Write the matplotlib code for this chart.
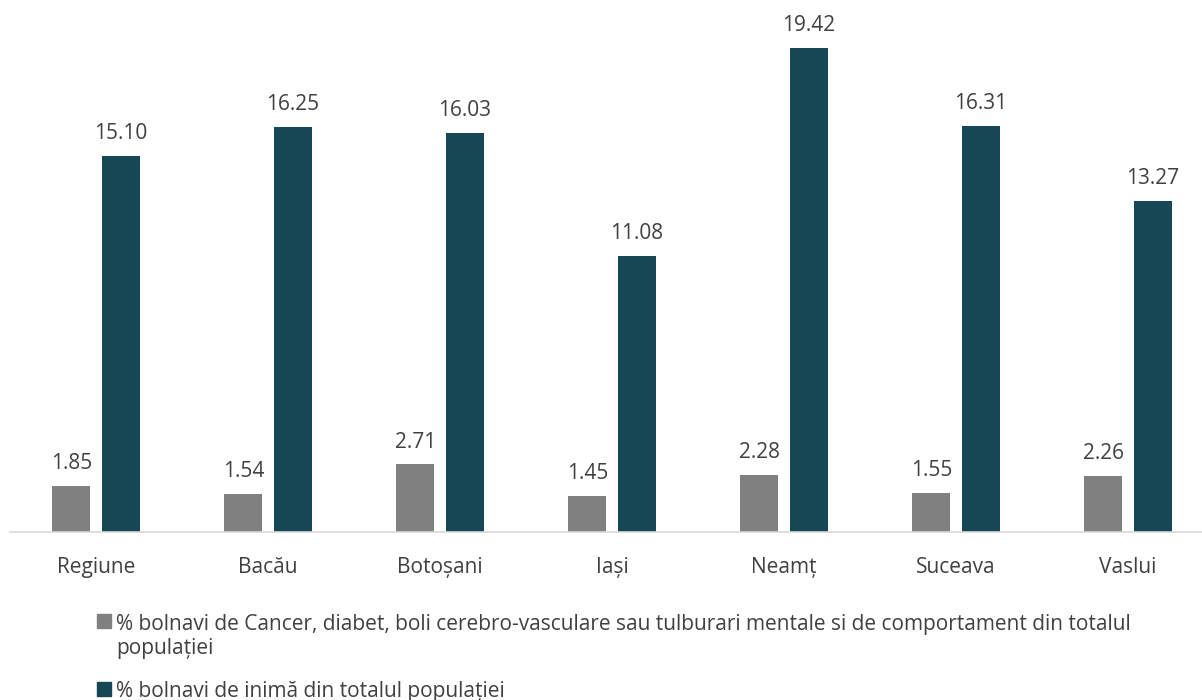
import matplotlib.pyplot as plt
from matplotlib.patches import Rectangle
import numpy as np

plt.rcParams['font.family'] = ['Open Sans', 'DejaVu Sans']

# Date
judete = ['Regiune', 'Bacău', 'Botoșani', 'Iași', 'Neamț', 'Suceava', 'Vaslui']
cancer = [1.85, 1.54, 2.71, 1.45, 2.28, 1.55, 2.26]
inima = [15.10, 16.25, 16.03, 11.08, 19.42, 16.31, 13.27]
eticheta_cancer = ('% bolnavi de Cancer, diabet, boli cerebro-vasculare sau tulburari mentale si de comportament din totalul\n'
                   'populației')
eticheta_inima = '% bolnavi de inimă din totalul populației'

gri = '#808080'
verde = '#154854'
text_col = '#404040'
W, H = 1202, 700

fig = plt.figure(figsize=(12.02, 7), dpi=100)
# axa se intinde putin dincolo de marginea din dreapta, ca in original
ax = fig.add_axes([10 / W, 168 / H, 1204 / W, 532 / H])

x = np.arange(len(judete))
w = 0.221
b1 = ax.bar(x - 0.143, cancer, w, color=gri)
b2 = ax.bar(x + 0.143, inima, w, color=verde)

for bars in (b1, b2):
    for b in bars:
        ax.text(b.get_x() + b.get_width() / 2, b.get_height() + 0.68,
                f"{b.get_height():.2f}", ha='center', va='baseline',
                fontsize=15, color=text_col)

ax.set_xlim(-0.5, len(judete) - 0.5)
ax.set_ylim(0, 21.35)
ax.set_xticks(x)
ax.set_xticklabels(judete, fontsize=15, color=text_col)
ax.tick_params(axis='x', length=0, pad=18)
ax.set_yticks([])
for s in ['top', 'right', 'left']:
    ax.spines[s].set_visible(False)
ax.spines['bottom'].set_color('#d9d9d9')
ax.spines['bottom'].set_linewidth(1.2)

# Legenda desenata manual (patratul aliniat cu primul rand)
rand = 1.2 * 15 * 100 / 72  # inaltimea unui rand in pixeli
intrari = [(eticheta_cancer, gri, 629), (eticheta_inima, verde, 697)]
for eticheta, culoare, baza in intrari:
    fig.add_artist(Rectangle((97 / W, 1 - (baza - 1) / H), 14 / W, 14 / H,
                             transform=fig.transFigure, color=culoare))
    ultima = baza + rand * eticheta.count('\n')
    fig.text(116 / W, 1 - ultima / H, eticheta, fontsize=15, color=text_col,
             va='baseline', ha='left', linespacing=1.2)

fig.savefig('out.png', dpi=100)
